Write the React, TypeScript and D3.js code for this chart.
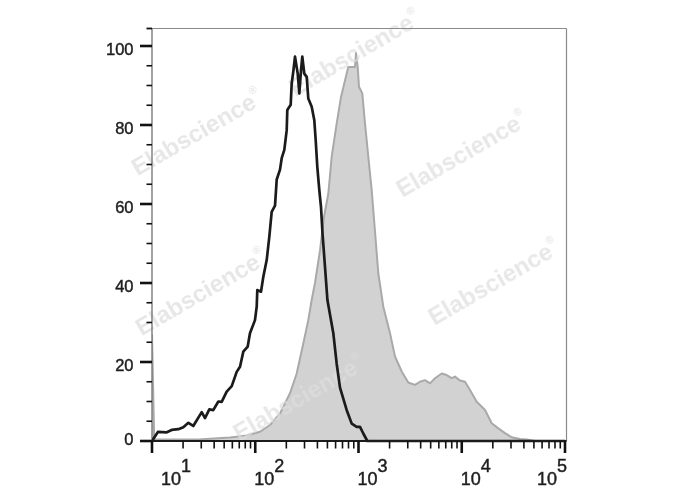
import React from "react";
import * as d3 from "d3";

// Black (unfilled) histogram
const blackX = [10, 11.4, 13.9, 15.5, 18.0, 20.1, 22.5, 25.1, 30.3, 32.6, 35.9, 39.2, 43.9, 47.3, 52.9, 59.2, 66.1, 71.2, 76.6, 84.5, 88.9, 99.4, 103.3, 104.7, 113.7, 119.7, 129.1, 136.8, 144.3, 155.4, 161.4, 173.7, 180.4, 191.2, 201.7, 204.4, 220.4, 225.4, 233.6, 242.7, 257.8, 267.2, 277.5, 285.6, 298.5, 315.0, 326.5, 352.1, 373.2, 384.9, 399.0, 417.2, 433.4, 448, 473.8, 500, 570.2, 615.1, 662, 768.9, 859.6, 960.7, 1034, 1113, 1217, 100000];
const blackY = [0, 2.3, 2.2, 2.8, 3.0, 3.5, 4.6, 3.8, 7.3, 5.8, 8.0, 7.8, 10.0, 9.9, 12.5, 13.9, 17.5, 18.8, 22.6, 23.9, 27.3, 30.6, 34.0, 38.2, 37.8, 41.6, 45.8, 51.7, 58.0, 59.6, 66.2, 68.7, 71.6, 73.7, 78.7, 83.8, 85.1, 90.5, 93.5, 97.3, 93.0, 88.0, 93.9, 97.3, 93.0, 92.2, 86.7, 84.6, 81.2, 76.2, 69.4, 63.5, 59.2, 52.6, 44.1, 35.7, 27.3, 19.5, 13.5, 7.8, 4.4, 3.6, 3.6, 1.9, 0, 0];

// Gray (filled) histogram
const grayX = [10, 10.5, 28.1, 56.9, 82.6, 111.2, 139, 173.7, 217, 252, 292, 326.5, 352, 379, 424, 463, 510, 550, 615, 677, 740, 796, 925, 946, 982, 1011, 1088, 1156, 1244, 1342, 1445, 1556, 1739, 2019, 2257, 2621, 3036, 3526, 3941, 4406, 4926, 5507, 6393, 7148, 7991, 8603, 9617, 10752, 12020, 13958, 16800, 19509, 22594, 26240, 30469, 36658, 42565, 51215, 100000];
const grayY = [27, 0.4, 0.4, 0.9, 1.4, 2.35, 4.05, 7.0, 12.1, 17.1, 24.7, 30.6, 35.7, 40.0, 48.3, 56.7, 62.6, 72.0, 80.4, 87.1, 91.3, 94.7, 94.7, 98.2, 94.7, 89.7, 88.0, 80.4, 72.0, 63.5, 53, 42.4, 34.0, 27.3, 21.4, 17.6, 14.8, 14.2, 15.0, 15.4, 14.6, 15.9, 17.1, 16.7, 15.9, 16.3, 15.3, 15.0, 12.9, 9.95, 7.85, 4.5, 3.2, 2.0, 0.94, 0.5, 0.4, 0, 0];

const yTickLabels = [0, 20, 40, 60, 80, 100];
const xTickExponents = [1, 2, 3, 4, 5];
const xLabelDx = [9, -1, -1, -1, -28];
const watermarkText = "Elabscience";
const watermarkSpots = [
  [356, 55], [198, 134], [463, 156], [202, 294], [495, 284], [300, 400],
];

export default function App() {
  const W = 688, H = 490;
  const x = d3.scaleLog().domain([10, 1e5]).range([152, 565]);
  const y = d3.scaleLinear().domain([0, 100]).range([441, 46]);
  const top = 28.5, rightEdge = 566.5;
  const x0 = x(10), yb = y(0);

  const black = blackX.map((v, i) => [v, blackY[i]] as [number, number]);
  const gray = grayX.map((v, i) => [v, grayY[i]] as [number, number]);

  const line = d3.line<[number, number]>().x(d => x(d[0])).y(d => y(d[1]));
  const area = d3.area<[number, number]>().x(d => x(d[0])).y0(yb).y1(d => y(d[1]));

  const yMinor = d3.range(5, 100, 5).filter(v => v % 20 !== 0);
  const xMinor: number[] = [];
  for (let e = 1; e < 5; e++) for (let m = 2; m <= 9; m++) xMinor.push(m * Math.pow(10, e));

  const font = "'Liberation Sans', Arial, sans-serif";
  const txt = "#1e1e1e";

  return (
    <svg width={W} height={H} style={{ position: "absolute", left: 0, top: 0, background: "#fff" }}>
      <rect x={0} y={0} width={W} height={H} fill="#fff" />
      <defs>
        <clipPath id="plot">
          <rect x={x0} y={top} width={rightEdge - x0} height={yb - top + 2} />
        </clipPath>
      </defs>
      {/* gray filled histogram */}
      <g clipPath="url(#plot)">
        <path d={area(gray) || ""} fill="#d2d2d2" stroke="none" />
        <path d={line(gray) || ""} fill="none" stroke="#a9a9a9" strokeWidth={2} strokeLinejoin="round" />
      </g>
      {/* watermark */}
      <g fontFamily={font} fontWeight="bold" fontSize={24} fill="#dedede" opacity={0.72}>
        {watermarkSpots.map(([cx, cy], i) => (
          <text key={i} transform={`translate(${cx},${cy}) rotate(-30)`} textAnchor="middle" dominantBaseline="middle">
            {watermarkText}
            <tspan fontSize={11} dy={-10}>®</tspan>
          </text>
        ))}
      </g>
      {/* frame */}
      <line x1={x0} x2={rightEdge} y1={top} y2={top} stroke="#8a8a8a" strokeWidth={1.2} />
      <line x1={rightEdge} x2={rightEdge} y1={top} y2={yb} stroke="#8a8a8a" strokeWidth={1.2} />
      <line x1={x0} x2={x0} y1={top} y2={yb} stroke="#7a7a7a" strokeWidth={1.4} />
      {/* black histogram */}
      <g clipPath="url(#plot)">
        <path d={line(black) || ""} fill="none" stroke="#1b1b1b" strokeWidth={2.7} strokeLinejoin="round" />
      </g>
      <line x1={x0 - 1} x2={rightEdge} y1={yb} y2={yb} stroke="#1b1b1b" strokeWidth={1.8} />
      {/* y ticks */}
      {yTickLabels.map(v => (
        <line key={"ym" + v} x1={140} x2={x0} y1={y(v)} y2={y(v)} stroke="#111" strokeWidth={2.6} />
      ))}
      {yMinor.map(v => (
        <line key={"yn" + v} x1={146.5} x2={x0} y1={y(v)} y2={y(v)} stroke="#111" strokeWidth={1.6} />
      ))}
      <line x1={146.5} x2={x0} y1={top} y2={top} stroke="#111" strokeWidth={1.8} />
      {yTickLabels.map(v => (
        <text key={"yl" + v} x={133.5} y={Math.min(y(v) + 9, 445)} textAnchor="end" fontFamily={font} fontSize={16.5}
          fill={txt} stroke={txt} strokeWidth={0.45}>
          {v}
        </text>
      ))}
      {/* x ticks */}
      {xTickExponents.map(e => (
        <line key={"xm" + e} x1={x(Math.pow(10, e))} x2={x(Math.pow(10, e))} y1={yb} y2={453} stroke="#111" strokeWidth={2.6} />
      ))}
      {xMinor.map(v => (
        <line key={"xn" + v} x1={x(v)} x2={x(v)} y1={yb} y2={448.5} stroke="#111" strokeWidth={1.6} />
      ))}
      {xTickExponents.map((e, i) => (
        <text key={"xl" + e} x={x(Math.pow(10, e)) + xLabelDx[i]} y={485} fontFamily={font} fontSize={18}
          fill={txt} stroke={txt} strokeWidth={0.45}>
          10
          <tspan dy={-13}>{e}</tspan>
        </text>
      ))}
    </svg>
  );
}
